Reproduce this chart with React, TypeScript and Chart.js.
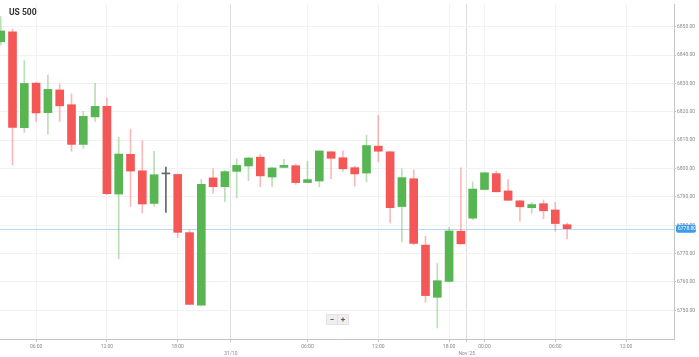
import React, { useEffect, useRef } from "react";
import { Chart, registerables } from "chart.js";

Chart.register(...registerables);

const TITLE = "US 500";

// Hourly OHLC candles (index 0 = 03:00 on 30/10)
const opens = [
  6844.7, 6848.15, 6814.4, 6830.1, 6819.7, 6827.7, 6822.5, 6808.5, 6818.2, 6821.9,
  6791.0, 6805.0, 6799.2, 6787.7, 6798.1, 6797.9, 6777.4, 6751.8, 6796.7, 6793.6,
  6799.0, 6800.9, 6804.0, 6797.0, 6800.4, 6801.0, 6795.05, 6795.6, 6805.9, 6803.8,
  6800.3, 6798.4, 6807.9, 6805.9, 6786.6, 6796.4, 6773.0, 6754.6, 6760.2, 6777.9,
  6782.5, 6792.6, 6798.2, 6792.1, 6788.6, 6786.2, 6787.6, 6785.4, 6780.2,
];
const highs = [
  6853.6, 6849.2, 6838.05, 6830.4, 6832.9, 6829.8, 6826.3, 6820.1, 6830.0, 6824.8,
  6811.0, 6813.8, 6809.8, 6806.1, 6800.5, 6798.0, 6778.3, 6796.2, 6800.0, 6799.4,
  6803.4, 6804.0, 6804.95, 6800.5, 6803.2, 6801.6, 6802.6, 6806.2, 6805.9, 6806.2,
  6800.8, 6811.8, 6818.75, 6806.1, 6799.9, 6799.6, 6776.1, 6766.6, 6779.3, 6800.2,
  6795.3, 6798.7, 6799.1, 6796.1, 6788.8, 6788.0, 6788.9, 6788.1, 6780.8,
];
const lows = [
  6843.5, 6801.3, 6812.7, 6816.6, 6812.1, 6816.6, 6806.1, 6807.2, 6816.6, 6790.8,
  6768.2, 6786.6, 6784.3, 6786.6, 6784.5, 6775.7, 6752.0, 6751.6, 6791.2, 6788.3,
  6789.7, 6795.7, 6793.6, 6793.6, 6800.3, 6794.4, 6795.0, 6793.6, 6796.4, 6799.1,
  6793.8, 6795.3, 6802.3, 6780.8, 6774.1, 6773.2, 6752.9, 6743.8, 6760.0, 6773.3,
  6782.0, 6792.5, 6791.7, 6788.7, 6781.4, 6784.25, 6782.3, 6777.9, 6775.2,
];
const closes = [
  6848.5, 6814.5, 6830.0, 6819.6, 6827.9, 6822.1, 6808.5, 6818.4, 6821.9, 6791.1,
  6805.1, 6799.1, 6787.5, 6797.8, 6798.1, 6777.5, 6752.1, 6794.4, 6793.6, 6798.9,
  6801.1, 6803.7, 6797.4, 6800.2, 6801.1, 6795.05, 6796.1, 6806.2, 6803.6, 6799.9,
  6798.1, 6808.1, 6806.1, 6786.2, 6796.8, 6773.6, 6755.2, 6760.45, 6778.0, 6773.45,
  6792.75, 6798.5, 6791.8, 6788.8, 6786.5, 6787.3, 6785.1, 6780.6, 6778.8,
];

// time axis labels (candle index -> label)
const timeTickIndex = [3, 9, 15, 26, 32, 38, 41, 47, 53];
const timeTickLabels = ["06:00", "12:00", "18:00", "06:00", "12:00", "18:00", "00:00", "06:00", "12:00"];
const dateTickIndex = [19.5, 39.5];
const dateTickLabels = ["31/10", "Nov '25"];
const priceTicks = [6750, 6760, 6770, 6780, 6790, 6800, 6810, 6820, 6830, 6840, 6850];
const X_MIN = -0.06;
const X_MAX = 57.06;
const Y_MIN = 6739.9;
const Y_MAX = 6858.0;

const UP = "#57b552";
const DOWN = "#f55757";
const UP_WICK = "rgba(87,181,82,0.42)";
const DOWN_WICK = "rgba(245,87,87,0.42)";
const FLAT = "#666666";

export default function App() {
  const ref = useRef<HTMLCanvasElement>(null);

  useEffect(() => {
    const canvas = ref.current;
    if (!canvas) return;
    const n = closes.length;
    const idx = closes.map((_, i) => i);
    const pick = (i: number, up: string, down: string) =>
      closes[i] > opens[i] ? up : closes[i] < opens[i] ? down : FLAT;

    const bodies = idx.map((i) => ({ x: i, y: [opens[i], closes[i]] }));
    const wicks = idx.map((i) => ({ x: i, y: [lows[i], highs[i]] }));
    const allTicks = [...timeTickIndex, ...dateTickIndex].sort((a, b) => a - b);
    const labelFor = (v: number): any => {
      let k = timeTickIndex.indexOf(v);
      if (k >= 0) return timeTickLabels[k];
      k = dateTickIndex.indexOf(v);
      if (k >= 0) return ["", dateTickLabels[k]];
      return "";
    };
    const lastClose = closes[n - 1];

    const overlay = {
      id: "overlay",
      beforeDatasetsDraw(chart: any) {
        const { ctx, chartArea, scales } = chart;
        const y = Math.round(scales.y.getPixelForValue(lastClose)) + 0.5;
        ctx.save();
        ctx.strokeStyle = "#b5dbf6";
        ctx.lineWidth = 1;
        ctx.beginPath();
        ctx.moveTo(chartArea.left, y);
        ctx.lineTo(chartArea.right, y);
        ctx.stroke();
        ctx.restore();
      },
      afterDraw(chart: any) {
        const { ctx, chartArea, scales } = chart;
        const y = scales.y.getPixelForValue(lastClose);
        ctx.save();
        ctx.fillStyle = "#3a9cec";
        const bx = chartArea.right + 2;
        const by = y - 4;
        const bw = 20;
        const bh = 8;
        ctx.beginPath();
        if ((ctx as any).roundRect) (ctx as any).roundRect(bx, by, bw, bh, 2);
        else ctx.rect(bx, by, bw, bh);
        ctx.fill();
        ctx.fillStyle = "#ffffff";
        ctx.font = "5px Roboto";
        ctx.textBaseline = "middle";
        ctx.textAlign = "left";
        ctx.fillText(lastClose.toFixed(2), bx + 2, y + 0.5);
        ctx.fillStyle = "#333333";
        ctx.font = "bold 8.5px Roboto";
        ctx.textBaseline = "alphabetic";
        ctx.fillText(TITLE, 9, 15);
        ctx.restore();
      },
    };

    const chart = new Chart(canvas, {
      type: "bar",
      data: {
        datasets: [
          {
            label: "body",
            data: bodies as any,
            backgroundColor: idx.map((i) => pick(i, UP, DOWN)),
            borderWidth: 0,
            barThickness: 8,
            minBarLength: 1,
            grouped: false,
          } as any,
          {
            label: "wick",
            data: wicks as any,
            backgroundColor: idx.map((i) => pick(i, UP_WICK, DOWN_WICK)),
            borderWidth: 0,
            barThickness: 1,
            grouped: false,
          } as any,
        ],
      },
      options: {
        responsive: false,
        animation: false,
        layout: { padding: 0 },
        plugins: {
          legend: { display: false },
          tooltip: { enabled: false },
          title: { display: false },
        },
        scales: {
          x: {
            type: "linear",
            min: X_MIN,
            max: X_MAX,
            offset: false,
            grid: {
              offset: false,
              color: (c: any) =>
                c.tick && dateTickIndex.includes(c.tick.value) ? "#dedede" : "#f2f2f2",
              tickColor: "#c8c8c8",
              tickLength: 3,
            },
            border: { display: true, color: "#c4c4c4" },
            afterBuildTicks: (scale: any) => {
              scale.ticks = allTicks.map((v) => ({ value: v }));
            },
            afterFit: (scale: any) => {
              scale.height = 18;
            },
            ticks: {
              autoSkip: false,
              maxRotation: 0,
              minRotation: 0,
              padding: 1,
              color: "#8a8a8a",
              font: { size: 5, family: "Roboto", lineHeight: 1.4 },
              callback: (v: any) => labelFor(Number(v)),
            },
          },
          y: {
            type: "linear",
            position: "right",
            min: Y_MIN,
            max: Y_MAX,
            beginAtZero: false,
            grid: { color: "#f2f2f2", tickColor: "#c8c8c8", tickLength: 2 },
            border: { display: true, color: "#c4c4c4" },
            afterBuildTicks: (scale: any) => {
              scale.ticks = priceTicks.map((v) => ({ value: v }));
            },
            afterFit: (scale: any) => {
              scale.width = 25;
            },
            ticks: {
              padding: 1,
              color: "#8a8a8a",
              font: { size: 5, family: "Roboto" },
              callback: (v: any) => Number(v).toFixed(2),
            },
          },
        },
      },
      plugins: [overlay],
    });

    return () => chart.destroy();
  }, []);

  const btn: React.CSSProperties = {
    position: "absolute",
    top: 314,
    width: 10,
    height: 9,
    background: "#efefef",
    border: "1px solid #e2e2e2",
    color: "#555",
    fontFamily: "Roboto, sans-serif",
    fontWeight: "bold",
    fontSize: 8,
    lineHeight: "9px",
    textAlign: "center",
  };

  return (
    <div style={{ position: "fixed", left: 0, top: 0, width: 699, height: 357, background: "#fff" }}>
      <canvas ref={ref} width={699} height={357} style={{ display: "block" }} />
      <div style={{ ...btn, left: 326 }}>−</div>
      <div style={{ ...btn, left: 337 }}>+</div>
    </div>
  );
}
